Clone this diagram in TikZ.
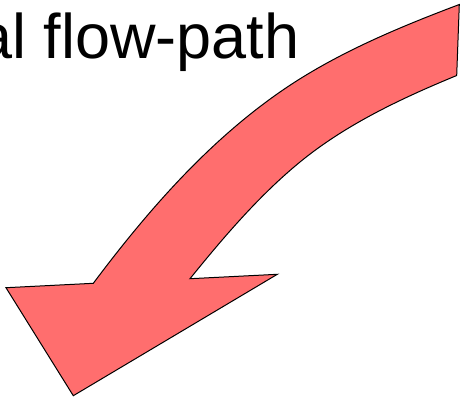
\documentclass[tikz,border=0pt]{standalone}
\usepackage{fontspec}
\setmainfont{Liberation Sans}
\definecolor{arrowred}{RGB}{255,110,110}
\begin{document}
\begin{tikzpicture}[x=1pt,y=-1pt,
  arrowbody/.style={fill=arrowred,draw=black,line width=1pt,line join=miter},
  titletext/.style={font=\fontsize{63}{70}\selectfont,inner sep=0pt,outer sep=0pt,anchor=base east}]
\useasboundingbox (0,0) rectangle (461,400);
\node[titletext] (title) at (299.5,58) {al flow-path};
\filldraw[arrowbody]
  (459.3,4.5) .. controls (397,28) and (334,54.4) .. (280,92)
  .. controls (207,142.7) and (146.7,212) .. (93.3,283.3)
  -- (6,287.7) -- (73.3,395.7) -- (277.3,274.3) -- (190,278.7)
  .. controls (223.4,237.4) and (259.2,195.4) .. (300,162)
  .. controls (346.2,124.2) and (401.5,98.3) .. (456.7,75.5)
  -- cycle;
\end{tikzpicture}
\end{document}
